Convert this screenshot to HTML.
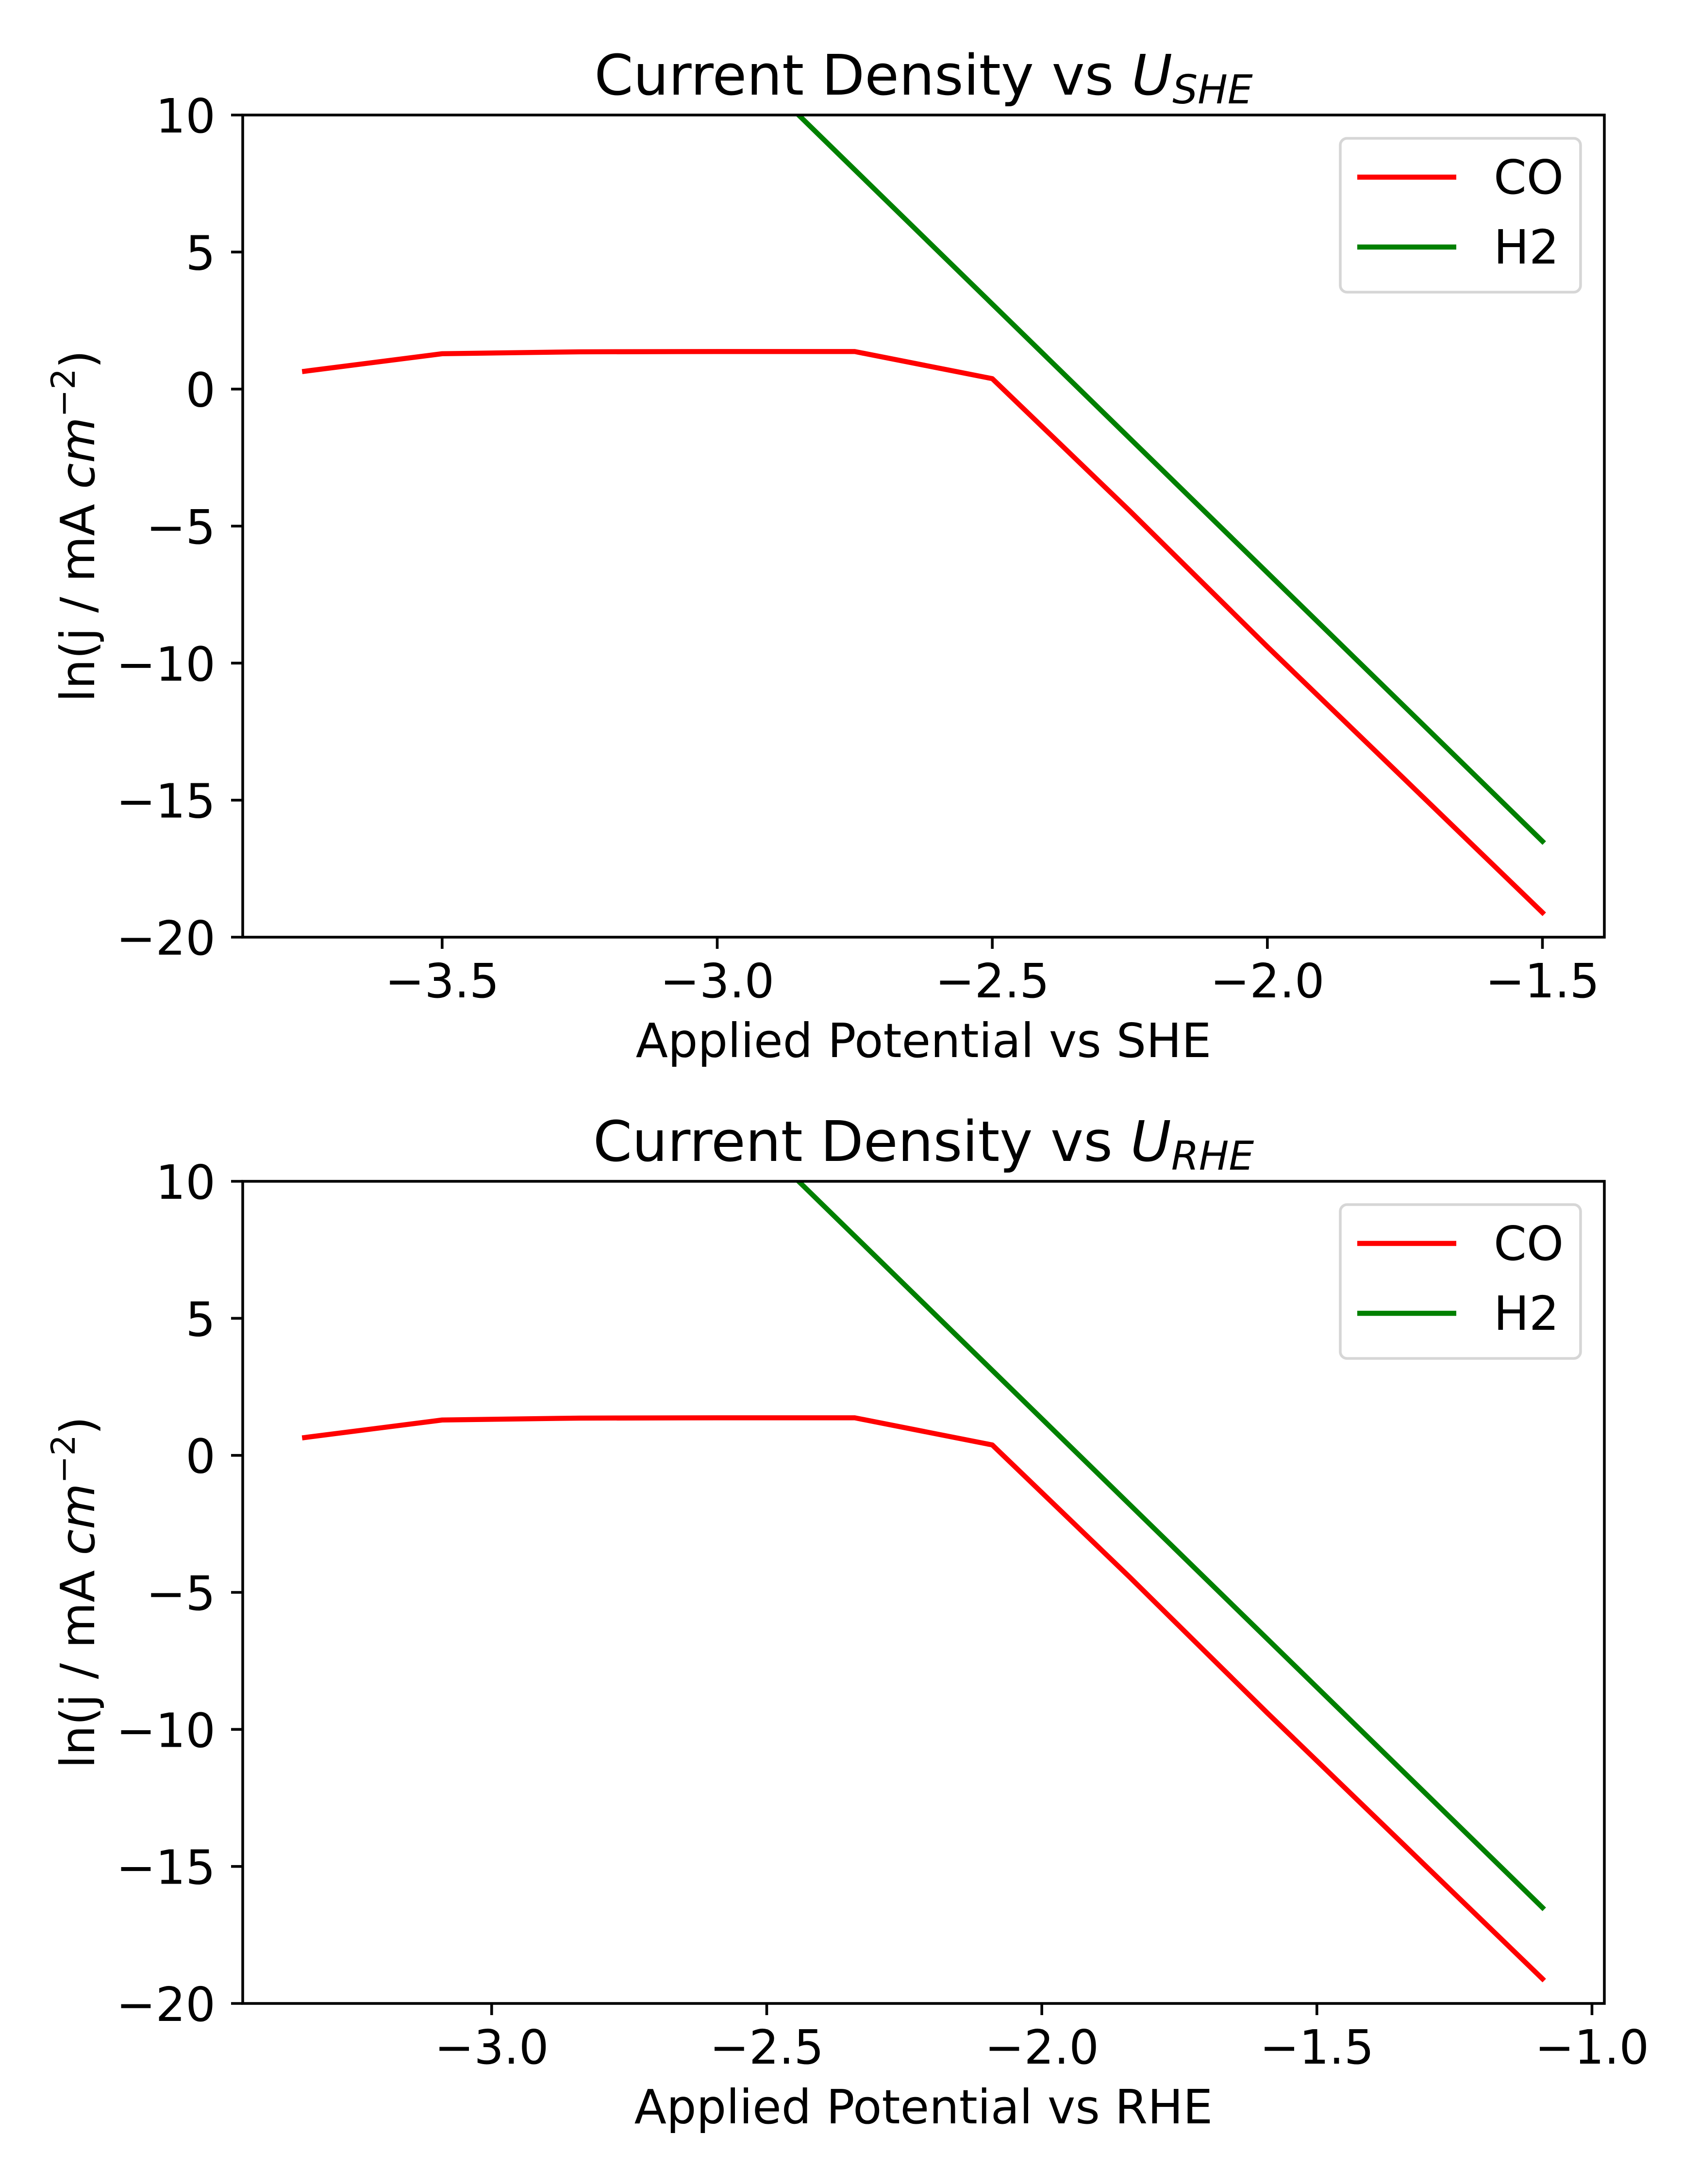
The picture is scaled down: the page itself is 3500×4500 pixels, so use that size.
<!DOCTYPE html>
<html><head><meta charset="utf-8"><style>
html,body{margin:0;padding:0;background:#fff;}
svg{display:block;}
text{font-family:"DejaVu Sans","Liberation Sans",sans-serif;fill:#000;}
</style></head><body>
<svg id="fig" width="3500" height="4500" viewBox="0 0 3500 4500" xmlns="http://www.w3.org/2000/svg">
<rect width="3500" height="4500" fill="#fff"/>
</svg>
<script>
const potentialsSHE = [-3.75, -3.5, -3.25, -3.0, -2.75, -2.5, -2.25, -2.0, -1.75, -1.5];
const potentialsRHE = [-3.34, -3.09, -2.84, -2.59, -2.34, -2.09, -1.84, -1.59, -1.34, -1.09];
const coValues = [0.65, 1.29, 1.36, 1.37, 1.37, 0.38, -4.45, -9.4, -14.25, -19.1];
const h2Values = [27.6, 22.7, 17.8, 12.9, 8.0, 3.1, -1.8, -6.7, -11.6, -16.5];
const yTicks = [10, 5, 0, -5, -10, -15, -20];
const xTicksSHE = [-3.5, -3.0, -2.5, -2.0, -1.5];
const xTicksRHE = [-3.0, -2.5, -2.0, -1.5, -1.0];

const NS = "http://www.w3.org/2000/svg";
const svg = document.getElementById('fig');
function mk(tag, attrs, parent) {
  const e = document.createElementNS(NS, tag);
  for (const k in attrs) e.setAttribute(k, attrs[k]);
  (parent || svg).appendChild(e);
  return e;
}
function fmtY(v) { return String(v).replace('-', '\u2212'); }
function fmtX(v) { return v.toFixed(1).replace('-', '\u2212'); }

function panel(idx, xs, xTicks, sub, xlabel) {
  const L = 500, R = 3305, T = idx === 0 ? 237 : 2434, B = T + 1694;
  const xmin = Math.min(...xs), xmax = Math.max(...xs), pad = (xmax - xmin) * 0.05;
  const x0 = xmin - pad, x1 = xmax + pad;
  const X = v => L + (v - x0) / (x1 - x0) * (R - L);
  const Y = v => T + (10 - v) / 30 * (B - T);
  const g = mk('g', {});
  
  
  const cp = mk('clipPath', {id: 'clip' + idx}, g);
  mk('rect', {x: L, y: T, width: R - L, height: B - T}, cp);
  const series = [[coValues, '#ff0000', 'co-line'], [h2Values, '#008000', 'h2-line']];
  series.forEach(([vals, col, name]) => {
    const pts = xs.map((x, i) => X(x).toFixed(1) + ',' + Y(vals[i]).toFixed(1)).join(' ');
    const pl = mk('polyline', {points: pts, fill: 'none', stroke: col, 'stroke-width': 10.4, 'stroke-linejoin': 'round', 'stroke-linecap': 'square', 'clip-path': 'url(#clip' + idx + ')'}, g);
    
    
  });
  const fr = mk('rect', {x: L, y: T, width: R - L, height: B - T, fill: 'none', stroke: '#000', 'stroke-width': 5.6, 'stroke-linejoin': 'miter'}, g);
  
  
  yTicks.forEach(v => {
    const y = Y(v);
    mk('line', {x1: L - 24, x2: L, y1: y, y2: y, stroke: '#000', 'stroke-width': 5.6}, g);
    const t = mk('text', {x: 444, y: y + 36, 'font-size': 97, 'text-anchor': 'end'}, g);
    t.textContent = fmtY(v);
    
    
  });
  xTicks.forEach(v => {
    const x = X(v);
    mk('line', {x1: x, x2: x, y1: B, y2: B + 24, stroke: '#000', 'stroke-width': 5.6}, g);
    const t = mk('text', {x: x, y: B + 124, 'font-size': 97, 'text-anchor': 'middle'}, g);
    t.textContent = fmtX(v);
    
    
  });
  const xl = mk('text', {x: (L + R) / 2, y: B + 247, 'font-size': 97, 'text-anchor': 'middle'}, g);
  xl.textContent = xlabel;
  
  
  const cy = (T + B) / 2;
  const yl = mk('text', {x: 0, y: 0, 'font-size': 97, 'text-anchor': 'middle', transform: 'translate(194,' + cy + ') rotate(-90)'}, g);
  yl.innerHTML = 'ln(j / mA <tspan font-style="italic">cm</tspan><tspan font-size="68" dy="-40">\u22122</tspan><tspan dy="40">)</tspan>';
  
  
  const tt = mk('text', {x: (L + R) / 2, y: T - 42, 'font-size': 115, 'text-anchor': 'middle'}, g);
  tt.innerHTML = 'Current Density vs <tspan font-style="italic">U</tspan><tspan font-style="italic" font-size="82" dy="18">' + sub + '</tspan>';
  
  
  const lg = mk('g', {}, g);
  
  
  mk('rect', {x: 2761, y: T + 48, width: 495, height: 317, rx: 14, fill: '#fff', 'fill-opacity': 0.8, stroke: '#d6d6d6', 'stroke-width': 5.6}, lg);
  [['CO', '#ff0000', 128], ['H2', '#008000', 272]].forEach(([lab, col, dy]) => {
    const ln = mk('line', {x1: 2796, x2: 3000, y1: T + dy, y2: T + dy, stroke: col, 'stroke-width': 10.4}, lg);
    
    
    const t = mk('text', {x: 3077, y: T + dy + 34, 'font-size': 97}, lg);
    t.textContent = lab;
    
    
  });
}
panel(0, potentialsSHE, xTicksSHE, 'SHE', 'Applied Potential vs SHE');
panel(1, potentialsRHE, xTicksRHE, 'RHE', 'Applied Potential vs RHE');
</script>
</body></html>
